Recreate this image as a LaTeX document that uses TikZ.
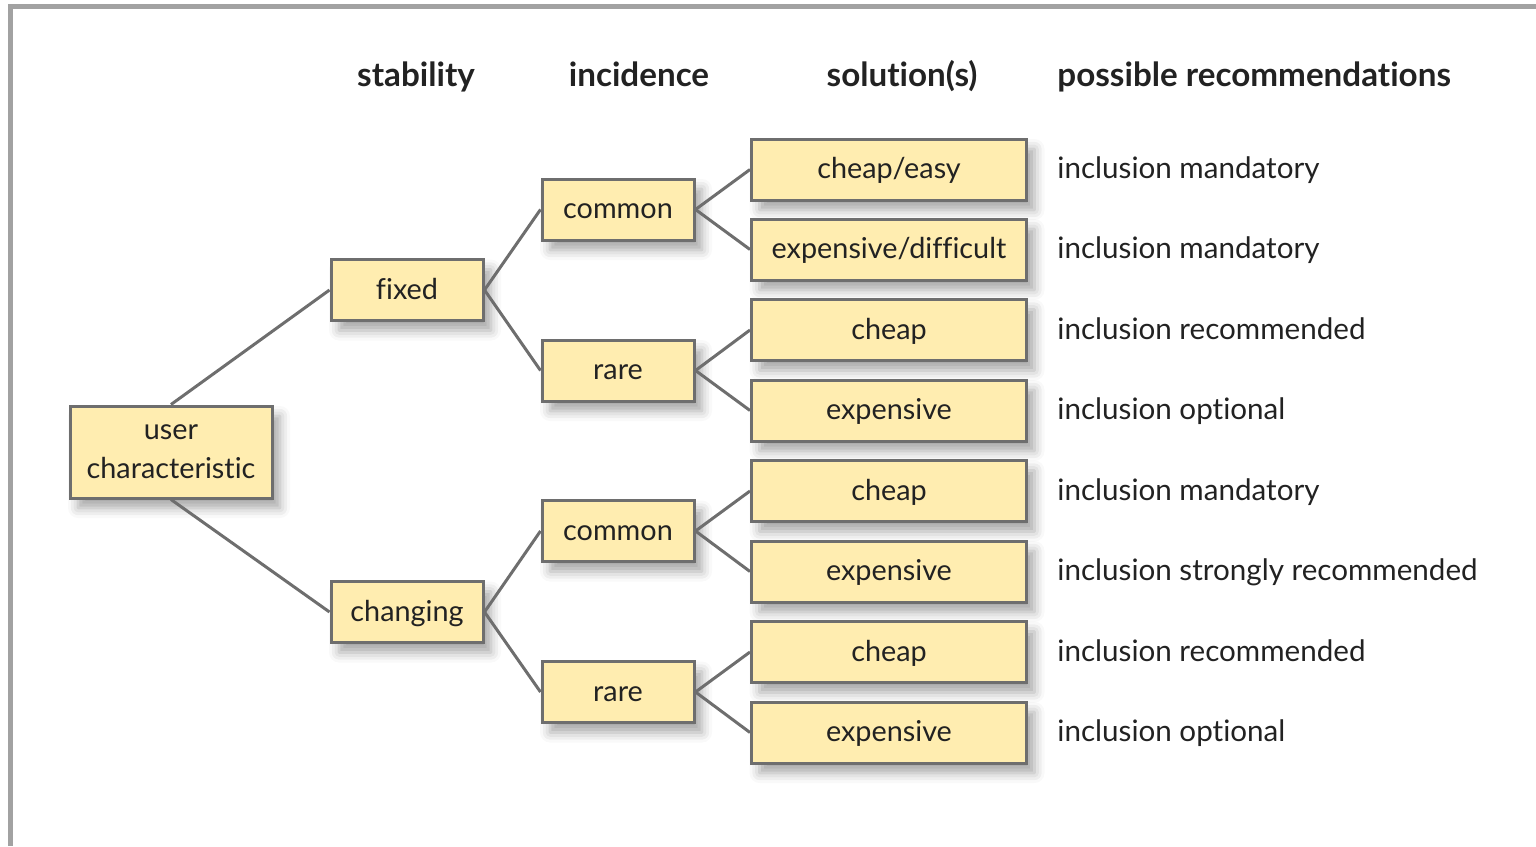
\documentclass[tikz,border=0pt]{standalone}
\usepackage{fontspec}
\setmainfont{Lato}[Ligatures=NoCommon]
\usetikzlibrary{shadows.blur}
\definecolor{boxfill}{HTML}{FFEDB0}
\definecolor{boxline}{HTML}{6E6E6E}
\definecolor{frameline}{HTML}{A2A2A2}
\definecolor{ink}{HTML}{222222}
\tikzset{
  box/.style={draw=boxline, line width=1.5pt, fill=boxfill, text=ink,
    font=\fontsize{14.4}{19.5}\selectfont, inner sep=0pt, align=center,
    text height=12.4pt, text depth=3.4pt,
    blur shadow={shadow xshift=4pt, shadow yshift=-5pt, shadow blur radius=5pt, shadow opacity=35}},
  small/.style={box, minimum width=76pt, minimum height=30.5pt},
  wide/.style={box, minimum width=137.5pt, minimum height=30.5pt},
  head/.style={font=\bfseries\fontsize{16.6}{19}\selectfont, text=ink, inner sep=0pt, anchor=base},
  rec/.style={font=\fontsize{14.8}{18}\selectfont, text=ink, inner sep=0pt, anchor=west,
    text height=12.5pt, text depth=3.5pt},
  link/.style={draw=boxline, line width=1.5pt}
}
\begin{document}
\begin{tikzpicture}[x=0.5pt, y=-0.5pt]
\useasboundingbox (0,0) rectangle (1536,846);
% outer frame (top and left edges)
\draw[frameline, line width=2.3pt] (8.5,6.5) -- (1536,6.5);
\draw[frameline, line width=2.3pt] (10.5,4) -- (10.5,846);

% column headings
\node[head] (h1) at (416,86) {stability};
\node[head] (h2) at (639,86) {incidence};
\node[head] (h3) at (902,86) {solution(s)};
\node[head, anchor=base west] (h4) at (1057,86) {possible recommendations};

% tree nodes
\node[box, text height=, text depth=, minimum width=101pt, minimum height=46pt] (uc) at (171,452) {user\\characteristic};
\node[small] (fx) at (407,290) {fixed};
\node[small] (ch) at (407,612) {changing};
\node[small] (c1) at (618,209.5) {common};
\node[small] (r1) at (618,370.5) {rare};
\node[small] (c2) at (618,531) {common};
\node[small] (r2) at (618,692) {rare};

\node[wide] (s1) at (889,169.5) {cheap/easy};
\node[wide] (s2) at (889,249.5) {expensive/difficult};
\node[wide] (s3) at (889,330) {cheap};
\node[wide] (s4) at (889,410.5) {expensive};
\node[wide] (s5) at (889,491) {cheap};
\node[wide] (s6) at (889,571.5) {expensive};
\node[wide] (s7) at (889,652) {cheap};
\node[wide] (s8) at (889,732.5) {expensive};

% recommendations
\node[rec] (t1) at (1057,169.5) {inclusion mandatory};
\node[rec] (t2) at (1057,249.5) {inclusion mandatory};
\node[rec] (t3) at (1057,330) {inclusion recommended};
\node[rec] (t4) at (1057,410.5) {inclusion optional};
\node[rec] (t5) at (1057,491) {inclusion mandatory};
\node[rec] (t6) at (1057,571.5) {inclusion strongly recommended};
\node[rec] (t7) at (1057,652) {inclusion recommended};
\node[rec] (t8) at (1057,732.5) {inclusion optional};

% connectors
\draw[link] (uc.north) -- (fx.west);
\draw[link] (uc.south) -- (ch.west);
\draw[link] (fx.east) -- (c1.west);
\draw[link] (fx.east) -- (r1.west);
\draw[link] (ch.east) -- (c2.west);
\draw[link] (ch.east) -- (r2.west);
\draw[link] (c1.east) -- (s1.west);
\draw[link] (c1.east) -- (s2.west);
\draw[link] (r1.east) -- (s3.west);
\draw[link] (r1.east) -- (s4.west);
\draw[link] (c2.east) -- (s5.west);
\draw[link] (c2.east) -- (s6.west);
\draw[link] (r2.east) -- (s7.west);
\draw[link] (r2.east) -- (s8.west);
\end{tikzpicture}
\end{document}
